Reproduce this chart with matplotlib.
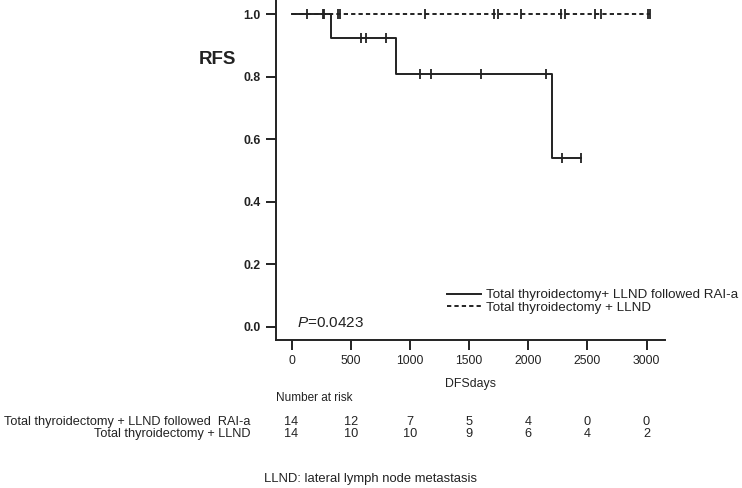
import numpy as np
import matplotlib
matplotlib.use("Agg")
import matplotlib.pyplot as plt
from matplotlib.lines import Line2D
from matplotlib.transforms import blended_transform_factory

# ---------------- data ----------------
rai_event_times = [336, 887, 2200]
rai_surv = [1.0, 0.923, 0.808, 0.539]
rai_censor = [275, 585, 627, 797, 1085, 1178, 1602, 2153, 2288, 2449]
rai_end = 2449

llnd_event_times = []
llnd_surv = [1.0]
llnd_censor = [127, 263, 390, 407, 1127, 1709, 1743, 1935, 2280, 2314,
               2568, 2613, 3014, 3030]
llnd_end = 3030

risk_times = [0, 500, 1000, 1500, 2000, 2500, 3000]
risk_rai = [14, 12, 7, 5, 4, 0, 0]
risk_llnd = [14, 10, 10, 9, 6, 4, 2]

label_rai_legend = "Total thyroidectomy+ LLND followed RAI-a"
label_llnd_legend = "Total thyroidectomy + LLND"
label_rai_row = "Total thyroidectomy + LLND followed  RAI-a"
label_llnd_row = "Total thyroidectomy + LLND"

y_ticks = [0.0, 0.2, 0.4, 0.6, 0.8, 1.0]
x_ticks = [0, 500, 1000, 1500, 2000, 2500, 3000]
p_text = "=0.0423"

# ---------------- style ----------------
W, H = 742, 488
REG = ["Liberation Sans", "DejaVu Sans"]
plt.rcParams["font.family"] = REG
plt.rcParams["mathtext.fontset"] = "custom"
plt.rcParams["mathtext.rm"] = "Liberation Sans"
plt.rcParams["mathtext.it"] = "Liberation Sans:italic"
INK = "#222222"
LW = 1.4

fig = plt.figure(figsize=(W / 100, H / 100), dpi=100)
ax = fig.add_axes([276 / W, 1 - 340 / H, (665 - 276) / W, 340 / H])
ax.set_xlim(-131, 3156)
ax.set_ylim(-0.0416, 1.0458)


def km_steps(event_times, surv, end):
    xs = [0] + list(event_times) + [end]
    ys = list(surv) + [surv[-1]]
    return xs, ys


def censor_y(event_times, surv, censor):
    idx = np.searchsorted(np.asarray(event_times, dtype=float), censor, side="right")
    return [surv[i] for i in idx]


DASH = (0, (2.2, 1.6))

# dashed group
xs, ys = km_steps(llnd_event_times, llnd_surv, llnd_end)
ax.step(xs, ys, where="post", color=INK, lw=LW, linestyle=DASH)
ax.plot(llnd_censor, censor_y(llnd_event_times, llnd_surv, llnd_censor),
        linestyle="none", marker="|", ms=6.5, mew=1.3, color=INK)

# solid group
xs, ys = km_steps(rai_event_times, rai_surv, rai_end)
ax.step(xs, ys, where="post", color=INK, lw=LW, linestyle="-")
ax.plot(rai_censor, censor_y(rai_event_times, rai_surv, rai_censor),
        linestyle="none", marker="|", ms=6.5, mew=1.3, color=INK)

# axes styling
for s in ["top", "right"]:
    ax.spines[s].set_visible(False)
for s in ["left", "bottom"]:
    ax.spines[s].set_linewidth(LW)
    ax.spines[s].set_color(INK)
ax.set_yticks(y_ticks)
ax.set_yticklabels([f"{v:.1f}" for v in y_ticks], fontweight="bold",
                   fontsize=8.8, color=INK)
ax.set_xticks(x_ticks)
ax.set_xticklabels([str(v) for v in x_ticks], fontsize=8.8, color=INK)
ax.tick_params(axis="both", direction="out", length=7, width=LW, color=INK)
ax.tick_params(axis="y", pad=4.0)
ax.tick_params(axis="x", pad=4)

# legend
handles = [Line2D([], [], color=INK, lw=LW, linestyle="-"),
           Line2D([], [], color=INK, lw=LW, linestyle=DASH)]
leg = ax.legend(handles, [label_rai_legend, label_llnd_legend],
                loc="upper left", bbox_to_anchor=(447 / W, 1 - 289 / H),
                bbox_transform=fig.transFigure, frameon=False, borderpad=0,
                borderaxespad=0, handlelength=2.55, handletextpad=0.38,
                labelspacing=0.02, prop={"size": 9.6})
for t in leg.get_texts():
    t.set_color(INK)

# P value
ax.text(297 / W, 1 - 323 / H, r"$P$" + p_text, transform=fig.transFigure,
        ha="left", va="center", fontsize=11, color=INK)

# labels
fig.text(217 / W, 1 - 60 / H, "RFS", ha="center", va="center", fontsize=13.5,
         fontweight="bold", color=INK)
fig.text(470 / W, 1 - 384 / H, "DFSdays", ha="center", va="center",
         fontsize=8.9, color=INK)
fig.text(276 / W, 1 - 398 / H, "Number at risk", ha="left", va="center",
         fontsize=8.5, color=INK)

# risk table
tr = blended_transform_factory(ax.transData, fig.transFigure)
for t, n in zip(risk_times, risk_rai):
    ax.text(t, 1 - 422 / H, str(n), transform=tr, ha="center", va="center",
            fontsize=9.2, color=INK, clip_on=False)
for t, n in zip(risk_times, risk_llnd):
    ax.text(t, 1 - 434 / H, str(n), transform=tr, ha="center", va="center",
            fontsize=9.2, color=INK, clip_on=False)
fig.text(250 / W, 1 - 422 / H, label_rai_row, ha="right", va="center",
         fontsize=9.2, color=INK)
fig.text(250 / W, 1 - 434 / H, label_llnd_row, ha="right", va="center",
         fontsize=9.2, color=INK)

fig.text(371 / W, 1 - 479 / H, "LLND: lateral lymph node metastasis",
         ha="center", va="center", fontsize=9.4, color=INK)

fig.savefig("out.png", dpi=100, facecolor="white")
